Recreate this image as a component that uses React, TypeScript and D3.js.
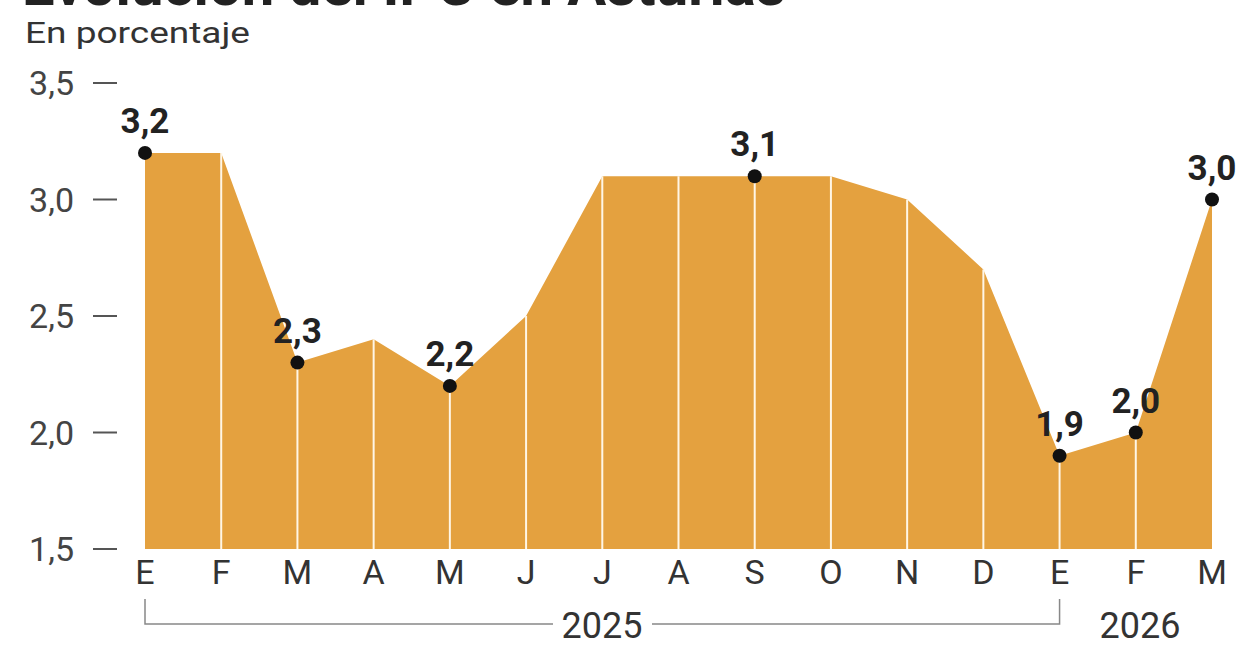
import React from "react";
import * as d3 from "d3";

const months = ["E", "F", "M", "A", "M", "J", "J", "A", "S", "O", "N", "D", "E", "F", "M"];
const values = [3.2, 3.2, 2.3, 2.4, 2.2, 2.5, 3.1, 3.1, 3.1, 3.1, 3.0, 2.7, 1.9, 2.0, 3.0];
const labelled = [0, 2, 4, 8, 12, 13, 14];
const yTicks = [1.5, 2.0, 2.5, 3.0, 3.5];

const W = 1236;
const H = 649;
const fmt = (v: number) => v.toFixed(1).replace(".", ",");

export default function App() {
  const x = d3.scaleLinear().domain([0, months.length - 1]).range([145, 1212]);
  const y = d3.scaleLinear().domain([1.5, 3.5]).range([549, 83]);
  const pts = values.map((v, i) => ({ i, v }));

  const area = d3.area<{ i: number; v: number }>()
    .x(d => x(d.i))
    .y0(y(1.5))
    .y1(d => y(d.v));

  const font = "Roboto, 'Liberation Sans', sans-serif";

  return (
    <svg width={W} height={H} style={{ position: "fixed", top: 0, left: 0, background: "#fff" }} fontFamily={font}>
      <text x={22} y={5} fontSize={58} fontWeight={700} fill="#222">Evolución del IPC en Asturias</text>
      <text x={25} y={43} fontSize={30} fill="#333" textLength={225} lengthAdjust="spacingAndGlyphs">En porcentaje</text>

      {yTicks.map(t => (
        <g key={t} transform={`translate(0,${y(t)})`}>
          <text x={74} y={12} textAnchor="end" fontSize={34} fill="#444">{fmt(t)}</text>
          <line x1={93} x2={117} stroke="#555" strokeWidth={2} />
        </g>
      ))}

      <path d={area(pts) || ""} fill="#E4A13F" />
      {pts.slice(1, -1).map(d => (
        <line key={d.i} x1={x(d.i)} x2={x(d.i)} y1={y(d.v)} y2={y(1.5)} stroke="#fff6e6" strokeWidth={2} />
      ))}

      {labelled.map(i => (
        <g key={i}>
          <circle cx={x(i)} cy={y(values[i])} r={7} fill="#111" />
          <text x={x(i)} y={y(values[i]) - 20} textAnchor="middle" fontSize={35} fontWeight={700} fill="#222">{fmt(values[i])}</text>
        </g>
      ))}

      {months.map((m, i) => (
        <text key={i} x={x(i)} y={584} textAnchor="middle" fontSize={34} fill="#333">{m}</text>
      ))}

      <path d={`M${x(0)},599 V624 H${553} M${652},624 H${x(12)} V599`} fill="none" stroke="#888" strokeWidth={1.5} />
      <text x={602} y={638} textAnchor="middle" fontSize={36} fill="#333">2025</text>
      <text x={1140} y={638} textAnchor="middle" fontSize={36} fill="#333">2026</text>
    </svg>
  );
}
